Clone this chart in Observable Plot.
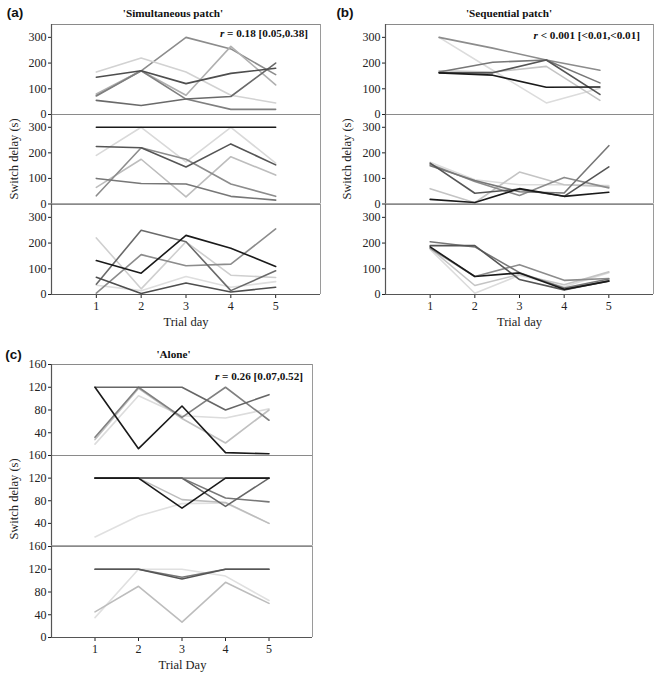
<!DOCTYPE html>
<html><head><meta charset="utf-8">
<script src="https://cdn.jsdelivr.net/npm/d3@7"></script>
<script src="https://cdn.jsdelivr.net/npm/@observablehq/plot@0.6"></script>
<style>
body{margin:0;background:#fff;}
#root{position:relative;width:661px;height:679px;font-family:"Liberation Serif","Times New Roman",Times,serif;color:#222;overflow:hidden;}
.sub{position:absolute;}
.t{position:absolute;white-space:nowrap;transform:translate(-50%,-50%);line-height:1;}
.pl{font-family:"Liberation Sans",Arial,sans-serif;font-weight:bold;font-size:13.5px;color:#111;}
.ti{font-weight:bold;font-size:11.2px;color:#111;}
.r{font-weight:bold;font-size:11.2px;color:#111;transform:translate(-100%,-50%);}
.ax{font-size:12.5px;}
.rot{transform:translate(-50%,-50%) rotate(-90deg);}
</style></head><body><div id="root"></div>
<script>
// ---------- data ----------
const days5 = [1, 2, 3, 4, 5];
const days4 = [1, 2, 3, 4];

// (a) 'Simultaneous patch'
const simTop = [
  [75, 170, 300, 255, 155],
  [165, 220, 165, 75, 45],
  [80, 170, 75, 265, 115],
  [72, 170, 60, 20, 20],
  [55, 35, 60, 70, 200],
  [145, 170, 120, 160, 180]
];
const simMid = [
  [190, 300, 165, 300, 160],
  [65, 175, 28, 185, 113],
  [32, 220, 175, 78, 30],
  [100, 80, 78, 30, 15],
  [225, 220, 145, 235, 153],
  [300, 300, 300, 300, 300]
];
const simBot = [
  [220, 22, 205, 75, 66],
  [36, 15, 70, 28, 50],
  [5, 155, 112, 118, 255],
  [40, 250, 205, 15, 92],
  [67, 4, 45, 10, 28],
  [132, 83, 230, 180, 109]
];
// (b) 'Sequential patch' (top group has 4 trial days)
const seqTop = [
  [300, 172, 45, 102],
  [170, 165, 187, 55],
  [300, 258, 212, 172],
  [165, 203, 212, 123],
  [162, 162, 212, 78],
  [162, 153, 106, 107]
];
const seqMid = [
  [163, 95, 75, 75, 72],
  [60, 5, 125, 75, 68],
  [155, 88, 33, 104, 63],
  [150, 92, 48, 43, 228],
  [160, 42, 58, 30, 145],
  [18, 6, 60, 30, 46]
];
const seqBot = [
  [175, 5, 75, 30, 85],
  [180, 35, 78, 38, 88],
  [180, 70, 116, 55, 62],
  [205, 185, 85, 25, 60],
  [190, 190, 58, 18, 53],
  [185, 70, 84, 20, 52]
];
// (c) 'Alone'
const aloneTop = [
  [20, 105, 70, 66, 82],
  [28, 118, 65, 22, 80],
  [32, 120, 67, 120, 62],
  [120, 120, 120, 80, 107],
  [120, 12, 87, 5, 3]
];
const aloneMid = [
  [16, 53, 75, 76, 40],
  [120, 120, 82, 77, 40],
  [120, 120, 120, 120, 120],
  [120, 120, 120, 85, 78],
  [120, 120, 120, 70, 120],
  [120, 120, 67, 120, 120]
];
const aloneBot = [
  [35, 120, 120, 108, 65],
  [45, 90, 27, 97, 60],
  [120, 120, 106, 120, 120],
  [120, 120, 103, 120, 120]
];

const ticksA = [0, 100, 200, 300];
const ticksCUpper = [40, 80, 120, 160];
const ticksCBottom = [0, 40, 80, 120, 160];

// ---------- styles ----------
const greys6a = ["#8c8c8c", "#d2d2d2", "#b0b0b0", "#7f7f7f", "#6a6a6a", "#4e4e4e"];
const greys6b = ["#d9d9d9", "#bdbdbd", "#8c8c8c", "#777777", "#555555", "#1a1a1a"];
const greys6c = ["#cfcfcf", "#dedede", "#8c8c8c", "#6a6a6a", "#4e4e4e", "#1a1a1a"];
const greysSeqTop = ["#dcdcdc", "#c4c4c4", "#8c8c8c", "#777777", "#555555", "#1a1a1a"];
const greysSeq = ["#dcdcdc", "#c4c4c4", "#8c8c8c", "#777777", "#555555", "#1a1a1a"];
const greysAloneTop = ["#dcdcdc", "#c0c0c0", "#808080", "#666666", "#1a1a1a"];
const greysAloneMid = ["#e0e0e0", "#bdbdbd", "#8c8c8c", "#777777", "#666666", "#1a1a1a"];
const greysAloneBot = ["#e0e0e0", "#bdbdbd", "#777777", "#555555"];

const serif = "'Liberation Serif', 'Times New Roman', Times, serif";
const root = document.getElementById("root");

function sub({series, colors, days, xMax, yMax, yTicks, fl, fr, ft, fb, showX}) {
  const ml = 40, mr = 6, mt = 8, mb = showX ? 24 : 2;
  const left = fl - ml, top = ft - mt;
  const width = fr - left + mr;
  const height = (fb - ft) + mt + mb;
  const marks = [
    Plot.ruleY([yMax], {stroke: "#8a8a8a", strokeWidth: 1}),
    Plot.ruleX([xMax], {stroke: "#9a9a9a", strokeWidth: 1})
  ];
  series.forEach((vals, i) => {
    const rows = vals.map((v, j) => ({day: days[j], value: v}));
    marks.push(Plot.line(rows, {x: "day", y: "value", stroke: colors[i], strokeWidth: 1.6}));
  });
  marks.push(Plot.ruleX([0], {stroke: "#555", strokeWidth: 1.2}));
  marks.push(Plot.ruleY([0], {stroke: "#555", strokeWidth: 1.2}));
  const chart = Plot.plot({
    width, height,
    marginLeft: ml, marginRight: mr, marginTop: mt, marginBottom: mb,
    style: {background: "transparent", fontFamily: serif, fontSize: "12px", color: "#222", overflow: "visible"},
    x: {domain: [0, xMax], axis: showX ? "bottom" : null, ticks: days5, tickSize: 4, tickPadding: 3, label: null, tickFormat: d => String(d)},
    y: {domain: [0, yMax], ticks: yTicks, tickSize: 3, tickPadding: 2, label: null, tickFormat: d => String(d)},
    marks
  });
  chart.classList.add("sub");
  chart.style.left = left + "px";
  chart.style.top = top + "px";
  root.appendChild(chart);
}

function text(cls, str, x, y) {
  const d = document.createElement("div");
  d.className = "t " + cls;
  d.style.left = x + "px";
  d.style.top = y + "px";
  d.innerHTML = str;
  root.appendChild(d);
}

// (a)
const aL = 51, aR = 320;
sub({series: simTop, colors: greys6a, days: days5, xMax: 6, yMax: 350, yTicks: ticksA, fl: aL, fr: aR, ft: 24, fb: 114, showX: false});
sub({series: simMid, colors: greys6b, days: days5, xMax: 6, yMax: 350, yTicks: ticksA, fl: aL, fr: aR, ft: 114, fb: 203.5, showX: false});
sub({series: simBot, colors: greys6c, days: days5, xMax: 6, yMax: 350, yTicks: ticksA, fl: aL, fr: aR, ft: 203.5, fb: 293.5, showX: true});
// (b)
const bL = 385, bR = 653;
sub({series: seqTop, colors: greysSeqTop, days: days4, xMax: 5, yMax: 350, yTicks: ticksA, fl: bL, fr: bR, ft: 24, fb: 114, showX: false});
sub({series: seqMid, colors: greysSeq, days: days5, xMax: 6, yMax: 350, yTicks: ticksA, fl: bL, fr: bR, ft: 114, fb: 203.5, showX: false});
sub({series: seqBot, colors: greysSeq, days: days5, xMax: 6, yMax: 350, yTicks: ticksA, fl: bL, fr: bR, ft: 203.5, fb: 293.5, showX: true});
// (c)
const cL = 51, cR = 312;
sub({series: aloneTop, colors: greysAloneTop, days: days5, xMax: 6, yMax: 160, yTicks: ticksCUpper, fl: cL, fr: cR, ft: 364, fb: 455, showX: false});
sub({series: aloneMid, colors: greysAloneMid, days: days5, xMax: 6, yMax: 160, yTicks: ticksCUpper, fl: cL, fr: cR, ft: 455, fb: 545.5, showX: false});
sub({series: aloneBot, colors: greysAloneBot, days: days5, xMax: 6, yMax: 160, yTicks: ticksCBottom, fl: cL, fr: cR, ft: 545.5, fb: 636.5, showX: true});

// texts
text("pl", "(a)", 15, 13);
text("ti", "'Simultaneous patch'", 173, 13.5);
text("r", "<i>r</i> = 0.18 [0.05,0.38]", 308, 34);
text("ax rot", "Switch delay (s)", 14, 158.5);
text("ax", "Trial day", 186, 321.5);

text("pl", "(b)", 345, 13);
text("ti", "'Sequential patch'", 509, 13.5);
text("r", "<i>r</i> &lt; 0.001 [&lt;0.01,&lt;0.01]", 640, 36);
text("ax rot", "Switch delay (s)", 347, 158.5);
text("ax", "Trial day", 519.5, 321.5);

text("pl", "(c)", 13.5, 355);
text("ti", "'Alone'", 173.5, 355);
text("r", "<i>r</i> = 0.26 [0.07,0.52]", 303, 376.5);
text("ax rot", "Switch delay (s)", 14, 499);
text("ax", "Trial Day", 182.5, 665);
</script>
</body></html>
